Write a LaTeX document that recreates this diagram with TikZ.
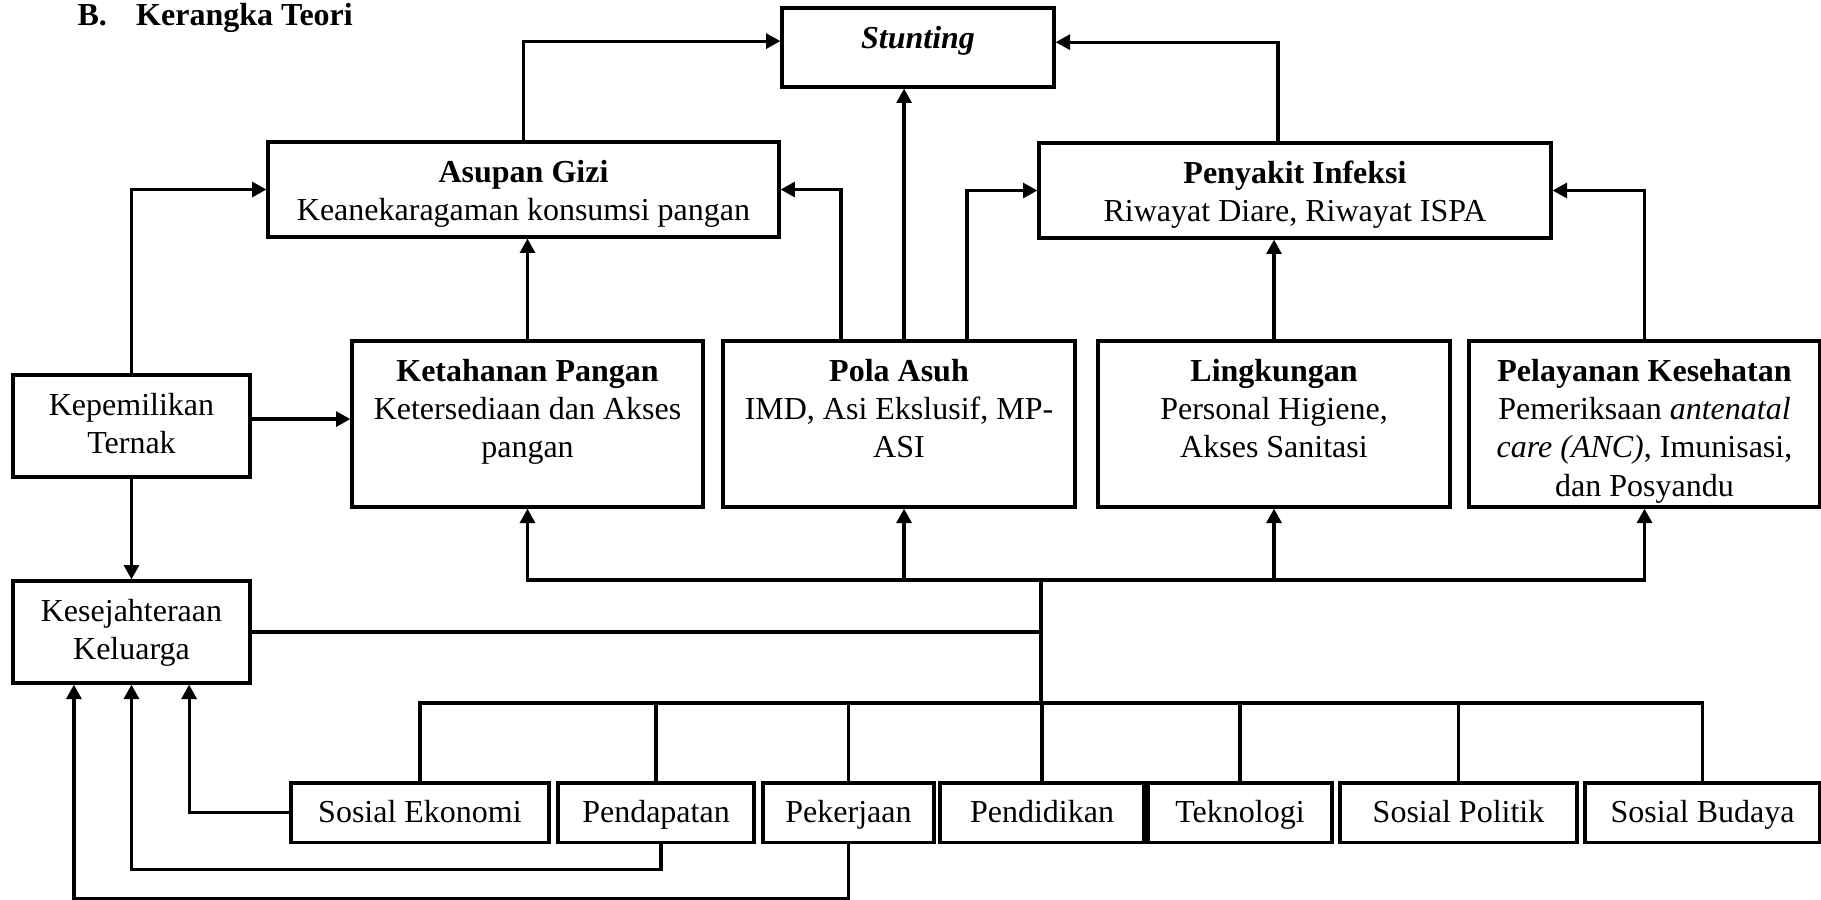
\documentclass[tikz,border=0pt]{standalone}
\usepackage{fontspec}
\setmainfont{Liberation Serif}
\usepackage{tikz}
\usetikzlibrary{arrows.meta,positioning}
\tikzset{%
  box/.style={rectangle,draw=black,line width=1.2pt,inner sep=0pt,font=\fontsize{12}{14.4}\selectfont},
  link/.style={line width=1.2pt},
  arr/.style={line width=1.2pt,-{Triangle[length=5.4pt,width=5.6pt]}}%
}
\newcommand{\cell}[3]{\parbox[c][#2][t]{#1}{\centering\rule{0pt}{15pt}#3}}

\begin{document}
\begin{tikzpicture}[x=0.375pt,y=-0.375pt]
      \useasboundingbox (0,0) rectangle (1821,899);

      \node[anchor=base west,inner sep=0pt,font=\fontsize{12}{14.4}\selectfont\bfseries] (judul) at (77,25) {B.\hspace{11pt}Kerangka Teori};

      \node[box] (stunting) at (918,47.5) {\cell{102pt}{29.6pt}{\textbf{\textit{Stunting}}}};
      \node[box] (asupan) at (523.5,189.5) {\cell{191.6pt}{35.6pt}{\textbf{Asupan Gizi}\\Keanekaragaman konsumsi pangan}};
      \node[box] (penyakit) at (1295,190.5) {\cell{192pt}{35.6pt}{\textbf{Penyakit Infeksi}\\Riwayat Diare, Riwayat ISPA}};

      \node[box] (kepemilikan) at (131.5,426) {\cell{88.9pt}{38.25pt}{Kepemilikan\\Ternak}};
      \node[box] (kesejahteraan) at (131.5,632) {\cell{88.9pt}{38.25pt}{Kesejahteraan\\Keluarga}};

      \node[box] (ketahanan) at (527.5,424) {\cell{131.6pt}{62.25pt}{\textbf{Ketahanan Pangan}\\Ketersediaan dan Akses\\pangan}};
      \node[box] (pola) at (899,424) {\cell{132pt}{62.25pt}{\textbf{Pola Asuh}\\IMD, Asi Ekslusif, MP-\\ASI}};
      \node[box] (lingkungan) at (1274,424) {\cell{132pt}{62.25pt}{\textbf{Lingkungan}\\Personal Higiene,\\Akses Sanitasi}};
      \node[box] (pelayanan) at (1644.5,424) {\cell{131.6pt}{62.25pt}{\textbf{Pelayanan Kesehatan}\\Pemeriksaan \textit{antenatal}\\\textit{care (ANC)}, Imunisasi,\\dan Posyandu}};

      \node[box] (sosial_ekonomi) at (420,812.5) {\cell{96.75pt}{22.2pt}{Sosial Ekonomi}};
      \node[box] (pendapatan) at (656,812.5) {\cell{73.5pt}{22.2pt}{Pendapatan}};
      \node[box] (pekerjaan) at (848.5,812.5) {\cell{64.1pt}{22.2pt}{Pekerjaan}};
      \node[box] (pendidikan) at (1042,812.5) {\cell{76.5pt}{22.2pt}{Pendidikan}};
      \node[box] (teknologi) at (1240,812.5) {\cell{69pt}{22.2pt}{Teknologi}};
      \node[box] (sosial_politik) at (1458.5,812.5) {\cell{88.9pt}{22.2pt}{Sosial Politik}};
      \node[box] (sosial_budaya) at (1702.5,812.5) {\cell{88.1pt}{22.2pt}{Sosial Budaya}};

      % ke stunting
      \coordinate (pola_up) at ([xshift=1.9pt]pola.north);
      \coordinate (pola_in) at ([xshift=1.9pt]pola.south);
      \draw[arr] (asupan.north) |- ([yshift=2.4pt]stunting.west);
      \draw[arr] ([xshift=-6.4pt]penyakit.north) |- ([yshift=2pt]stunting.east);
      \path (pola_up) edge[arr] (pola_up |- stunting.south);

      % ke asupan gizi dan penyakit infeksi
      \draw[arr] ([xshift=-21.75pt]pola.north) |- (asupan.east);
      \draw[arr] ([xshift=25.5pt]pola.north) |- (penyakit.west);
      \path (ketahanan.north) edge[arr] (ketahanan.north |- asupan.south)
            (lingkungan.north) edge[arr] (lingkungan.north |- penyakit.south);
      \draw[arr] (pelayanan.north) |- (penyakit.east);

      % kepemilikan ternak
      \coordinate (ternak_out) at ([yshift=2.6pt]kepemilikan.east);
      \draw[arr] (kepemilikan.north) |- (asupan.west);
      \path (ternak_out) edge[arr] (ternak_out -| ketahanan.west)
            (kepemilikan.south) edge[arr] (kesejahteraan.north);

      % faktor tidak langsung
      \coordinate (hub_top) at (1041,580);
      \coordinate (hub_low) at (1041,703);
      \draw[link] (hub_low) -- (hub_top);
      \draw[link] (kesejahteraan.east) -- (kesejahteraan.east -| hub_top);
      \foreach \n in {ketahanan,lingkungan,pelayanan}
        \draw[arr] (hub_top) -| (\n.south);
      \draw[arr] (hub_top) -| (pola_in);
      \foreach \n in {sosial_ekonomi,pendapatan,pekerjaan,pendidikan,teknologi,sosial_politik,sosial_budaya}
        \draw[link] (\n.north) |- (hub_low);

      % ke kesejahteraan keluarga
      \draw[arr] (sosial_ekonomi.west) -| ([xshift=21.6pt]kesejahteraan.south);
      \draw[arr] ([xshift=1.9pt]pendapatan.south) -- ++(0,26) -| (kesejahteraan.south);
      \draw[arr] (pekerjaan.south) -- ++(0,55) -| ([xshift=-21.6pt]kesejahteraan.south);
    \end{tikzpicture}
\end{document}
